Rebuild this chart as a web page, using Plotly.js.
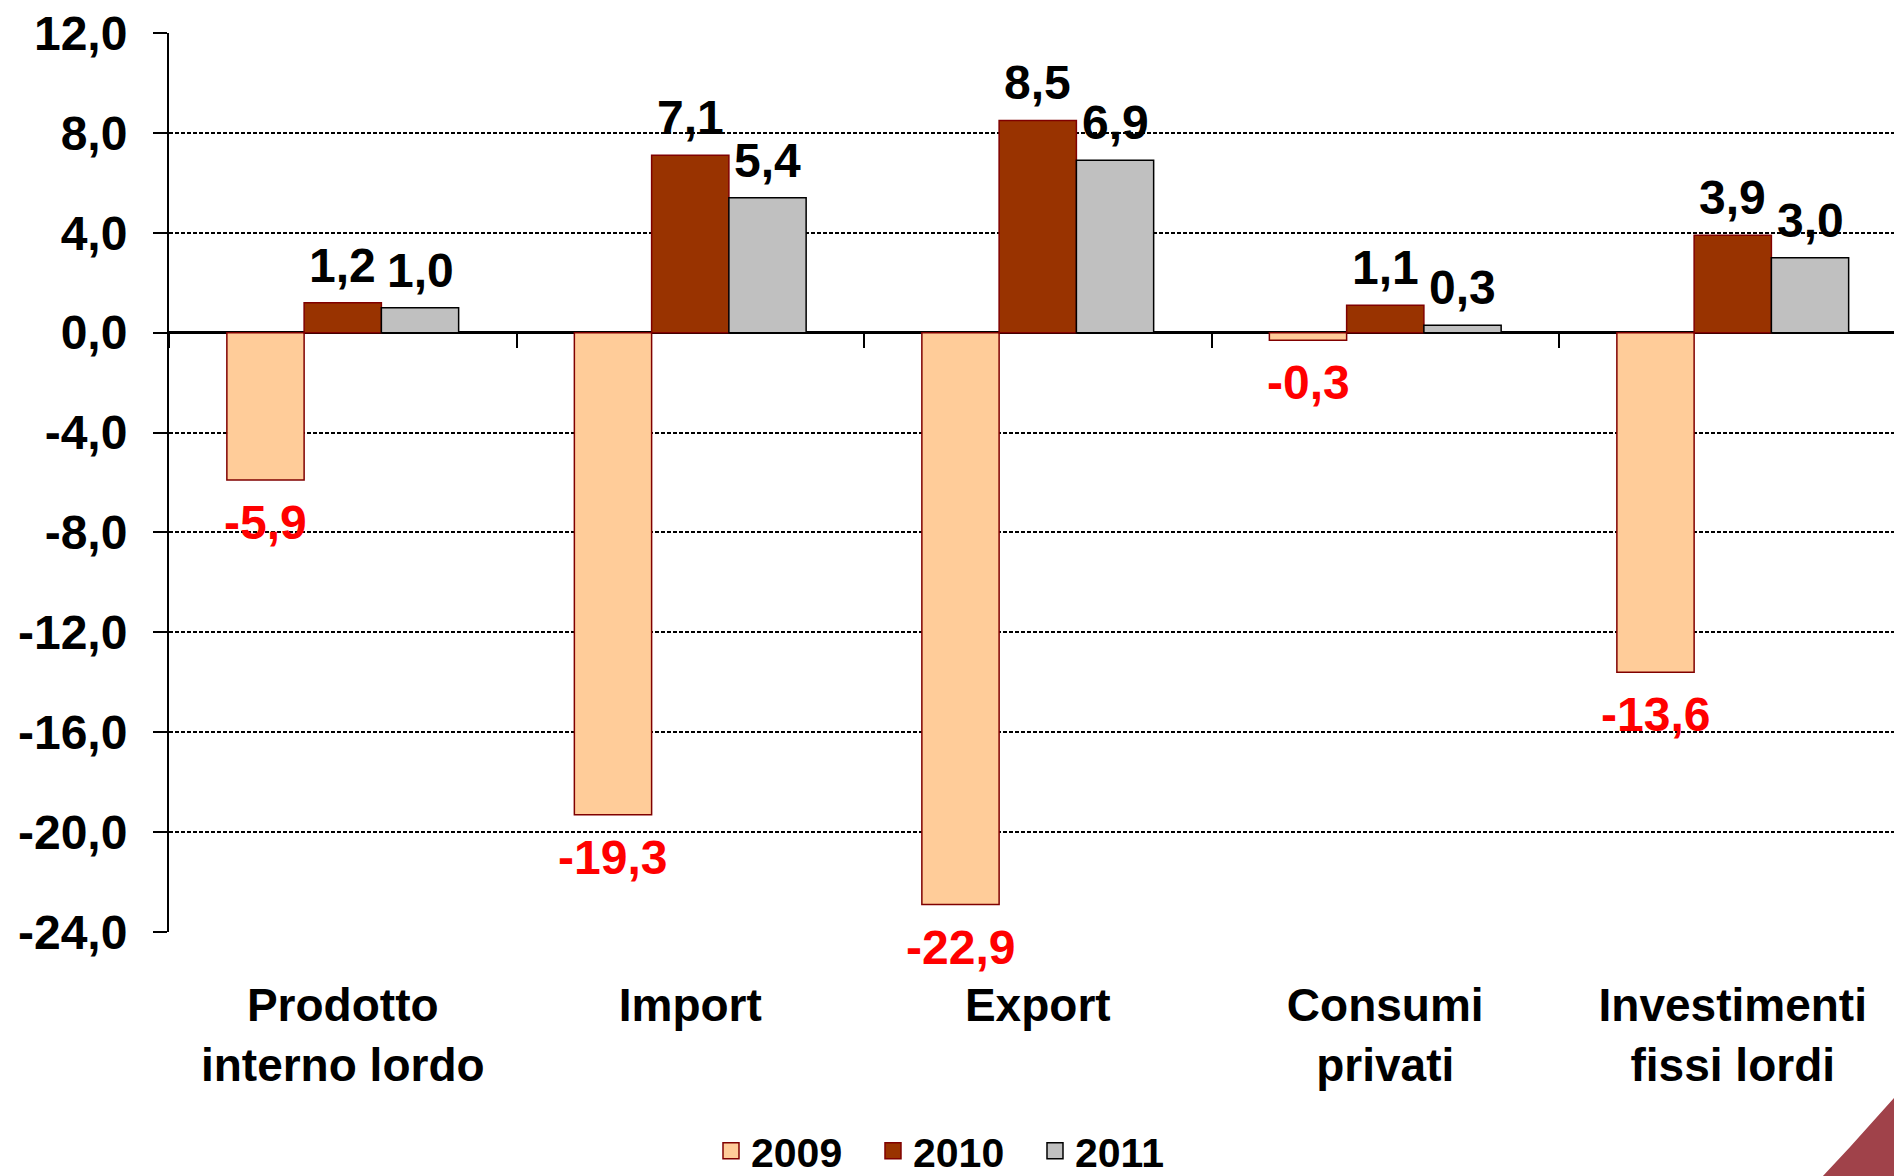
<!DOCTYPE html>
<html>
<head>
<meta charset="utf-8">
<script src="https://cdn.plot.ly/plotly-3.0.1.min.js"></script>
<style>html,body{margin:0;padding:0;background:#fff;}</style>
</head>
<body>
<div id="chart" style="width:1894px;height:1176px;"></div>
<script>
const categories = ['Prodotto<br>interno lordo', 'Import', 'Export', 'Consumi<br>privati', 'Investimenti<br>fissi lordi'];
const years = ['2009', '2010', '2011'];
const v2009 = [-5.9, -19.3, -22.9, -0.3, -13.6];
const v2010 = [1.2, 7.1, 8.5, 1.1, 3.9];
const v2011 = [1.0, 5.4, 6.9, 0.3, 3.0];
const yTickVals = [12, 8, 4, 0, -4, -8, -12, -16, -20, -24];
const yTickText = ['12,0', '8,0', '4,0', '0,0', '-4,0', '-8,0', '-12,0', '-16,0', '-20,0', '-24,0'];

const series = [v2009, v2010, v2011];
const fills = ['#FFCC99', '#993300', '#C0C0C0'];
const borders = ['#800000', '#800000', '#000000'];
const FONT = 'Liberation Sans, Arial, sans-serif';
const BARGAP = 0.333;
const barW = (1 - BARGAP) / 3;

const traces = series.map((vals, j) => ({
  type: 'bar',
  name: years[j],
  x: categories,
  y: vals,
  marker: {color: fills[j], line: {color: borders[j], width: 1.5}},
  showlegend: false,
  legendgroup: years[j],
  hoverinfo: 'x+y+name'
}));

// legend entries (square swatches, no points drawn)
series.forEach((vals, j) => {
  traces.push({
    type: 'scatter', mode: 'markers', name: years[j], legendgroup: years[j],
    x: categories, y: categories.map(() => null),
    marker: {symbol: 'square', size: 16, color: fills[j], line: {color: borders[j], width: 1.5}},
    hoverinfo: 'skip'
  });
});

// helper trace for the boundary ticks on the zero line
traces.push({
  type: 'scatter', mode: 'markers', x: categories, y: categories.map(() => null),
  xaxis: 'x2', yaxis: 'y', showlegend: false, hoverinfo: 'skip'
});

const fmt = v => v.toFixed(1).replace('.', ',');
const annotations = [];
series.forEach((vals, j) => {
  vals.forEach((v, i) => {
    const pos = v >= 0;
    annotations.push({
      x: i + (j - 1) * barW, y: v, xref: 'x', yref: 'y',
      text: fmt(v), showarrow: false,
      xanchor: 'center', yanchor: pos ? 'bottom' : 'top',
      yshift: pos ? 9 : -14,
      font: {family: FONT, size: 48, weight: 'bold', color: pos ? '#000000' : '#FF0000'}
    });
  });
});

const yMin = -24, yMax = 12;
const layout = {
  width: 1894, height: 1176,
  margin: {l: 169, r: 0, t: 33, b: 244, autoexpand: false},
  paper_bgcolor: '#ffffff', plot_bgcolor: 'rgba(0,0,0,0)',
  separators: ',.',
  barmode: 'group', bargap: BARGAP, bargroupgap: 0,
  font: {family: FONT, color: '#000000'},
  xaxis: {
    type: 'category', categoryorder: 'array', categoryarray: categories,
    range: [-0.5, 4.464], showgrid: false, zeroline: false, showline: false,
    ticks: '', ticklabelstandoff: 42, automargin: false,
    tickfont: {family: FONT, size: 46, weight: 'bold', color: '#000'}
  },
  xaxis2: {
    type: 'category', categoryorder: 'array', categoryarray: categories,
    overlaying: 'x', anchor: 'free', side: 'bottom',
    position: (0 - yMin) / (yMax - yMin),
    range: [-0.5, 4.464], showgrid: false, zeroline: false, showline: false,
    ticks: 'outside', tickson: 'boundaries', ticklen: 14, tickwidth: 2, tickcolor: '#000',
    showticklabels: false, automargin: false
  },
  yaxis: {
    range: [yMin, yMax], tickmode: 'array', tickvals: yTickVals, ticktext: yTickText,
    showgrid: true, gridcolor: '#000000', gridwidth: 1.5, griddash: '4px,2px',
    zeroline: true, zerolinecolor: '#000000', zerolinewidth: 2.5,
    showline: true, linecolor: '#000000', linewidth: 2,
    ticks: 'outside', ticklen: 14, tickwidth: 2, tickcolor: '#000',
    ticklabelstandoff: 16, automargin: false,
    tickfont: {family: FONT, size: 48, weight: 'bold', color: '#000'}
  },
  showlegend: true,
  legend: {
    orientation: 'h', x: 0.3142, xanchor: 'left', y: -0.2436, yanchor: 'middle',
    entrywidth: 117, entrywidthmode: 'pixels', itemclick: false, itemdoubleclick: false,
    font: {family: FONT, size: 41, weight: 'bold', color: '#000'},
    bgcolor: 'rgba(0,0,0,0)'
  },
  annotations: annotations,
  shapes: [{
    type: 'path', xref: 'paper', yref: 'paper', layer: 'below',
    path: 'M0.9559,-0.30 L0.9588,-0.2714 L0.9745,-0.2392 L0.9901,-0.2058 L1.0,-0.1846 L1.01,-0.175 L1.01,-0.30 Z',
    fillcolor: '#A0424A', line: {width: 0}
  }]
};

Plotly.newPlot('chart', traces, layout, {displayModeBar: false, responsive: false});
</script>
</body>
</html>
